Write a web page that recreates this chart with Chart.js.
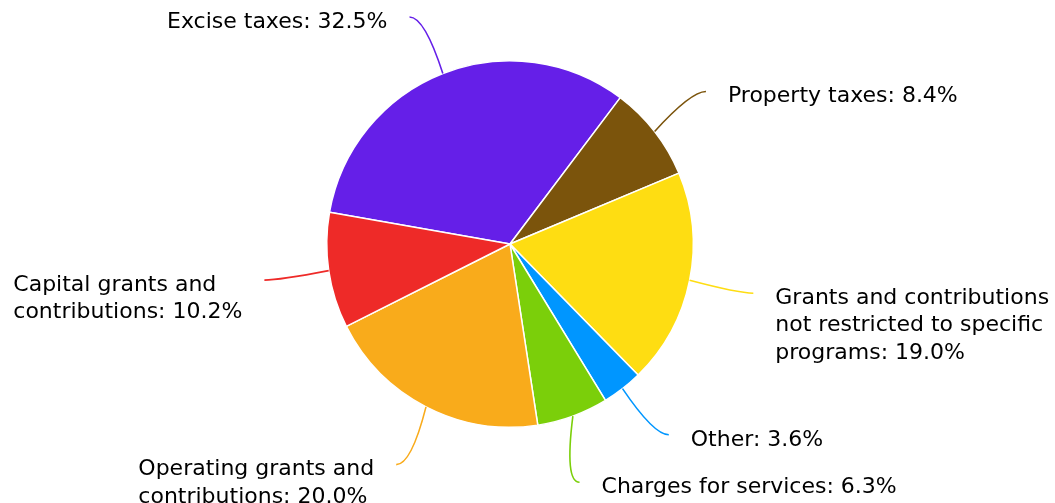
<!DOCTYPE html>
<html>
<head>
<meta charset="utf-8">
<script src="https://cdn.jsdelivr.net/npm/chart.js@4.4.1/dist/chart.umd.min.js"></script>
<style>
    html, body { margin: 0; padding: 0; background: #fff; }
    #wrap { width: 1055px; height: 503px; position: relative; }
</style>
</head>
<body>
<div id="wrap"><canvas id="revenueData"></canvas></div>
<script>
// revenue sources, percent of total
const categories = [
    "Excise taxes",
    "Property taxes",
    "Grants and contributions not restricted to specific programs",
    "Other",
    "Charges for services",
    "Operating grants and contributions",
    "Capital grants and contributions"
];
const shares = [32.5, 8.4, 19.0, 3.6, 6.3, 20.0, 10.2];
const sliceColors = ['#651fe8', '#7b540c', '#fedd12', '#0096ff', '#7bcf0a', '#f9ab1b', '#ee2a28'];

const labelFont = '22px "DejaVu Sans"';
const lineHeight = 27.5;
const labelDistance = 65;

function wrapWords(ctx, text, maxWidth) {
    const words = text.split(' ');
    const lines = [];
    let line = '';
    words.forEach(w => {
        const test = line ? line + ' ' + w : w;
        if (line && ctx.measureText(test).width > maxWidth) {
            lines.push(line);
            line = w;
        } else {
            line = test;
        }
    });
    if (line) lines.push(line);
    return lines;
}

// outside labels with curved connectors
const pieLabels = {
    id: 'pieLabels',
    afterDatasetsDraw(chart) {
        const ctx = chart.ctx;
        const meta = chart.getDatasetMeta(0);
        ctx.save();
        ctx.font = labelFont;
        ctx.textBaseline = 'middle';
        ctx.textAlign = 'left';

        let cx = 0, cy = 0, rl = 0;
        const items = meta.data.map((arc, i) => {
            const { x, y, startAngle, endAngle, outerRadius } =
                arc.getProps(['x', 'y', 'startAngle', 'endAngle', 'outerRadius'], true);
            cx = x; cy = y; rl = outerRadius + labelDistance;
            const mid = (startAngle + endAngle) / 2;
            const cos = Math.cos(mid), sin = Math.sin(mid);
            const side = cos >= 0 ? 1 : -1;
            const text = categories[i] + ': ' + shares[i].toFixed(1) + '%';
            const ax0 = x + cos * rl;
            const avail = side > 0 ? chart.width - (ax0 + 22) : ax0 - 22;
            return {
                i, side,
                edgeX: x + cos * outerRadius,
                edgeY: y + sin * outerRadius,
                ay: y + sin * rl,
                lines: wrapWords(ctx, text, Math.min(avail, 330))
            };
        });

        // keep labels on the same side apart and inside the canvas
        [1, -1].forEach(side => {
            const group = items.filter(d => d.side === side).sort((a, b) => a.ay - b.ay);
            for (let k = 1; k < group.length; k++) {
                const up = group[k - 1], dn = group[k];
                const need = up.lines.length * lineHeight + 20;
                const gap = dn.ay - up.ay;
                if (gap < need) {
                    const shift = (need - gap) / 2;
                    up.ay -= shift;
                    dn.ay += shift;
                }
            }
            group.forEach(d => { d.ay = Math.max(d.ay, 17); });
        });

        items.forEach(d => {
            const dy = Math.min(Math.abs(d.ay - cy), rl);
            const ax = cx + d.side * Math.sqrt(rl * rl - dy * dy);
            const ay = d.ay;

            ctx.strokeStyle = sliceColors[d.i];
            ctx.lineWidth = 1.6;
            ctx.beginPath();
            ctx.moveTo(ax, ay);
            ctx.quadraticCurveTo(ax - d.side * 15, ay, d.edgeX, d.edgeY);
            ctx.stroke();

            let left;
            if (d.side > 0) {
                left = ax + 22;
            } else {
                const w = Math.max(...d.lines.map(l => ctx.measureText(l).width));
                left = ax - 22 - w;
            }
            ctx.fillStyle = '#000';
            d.lines.forEach((l, k) => ctx.fillText(l, left, ay + 5 + k * lineHeight));
        });
        ctx.restore();
    }
};

const revenueChart = new Chart(document.getElementById('revenueData'), {
    type: 'pie',
    data: {
        labels: categories,
        datasets: [{
            data: shares,
            backgroundColor: sliceColors,
            borderColor: '#ffffff',
            borderWidth: 1.5
        }]
    },
    options: {
        responsive: true,
        maintainAspectRatio: false,
        animation: false,
        rotation: -80,
        layout: {
            padding: { top: 60, bottom: 75, left: 0, right: 35 }
        },
        plugins: {
            legend: { display: false },
            tooltip: { enabled: false }
        },
        events: []
    },
    plugins: [pieLabels]
});
</script>
</body>
</html>
